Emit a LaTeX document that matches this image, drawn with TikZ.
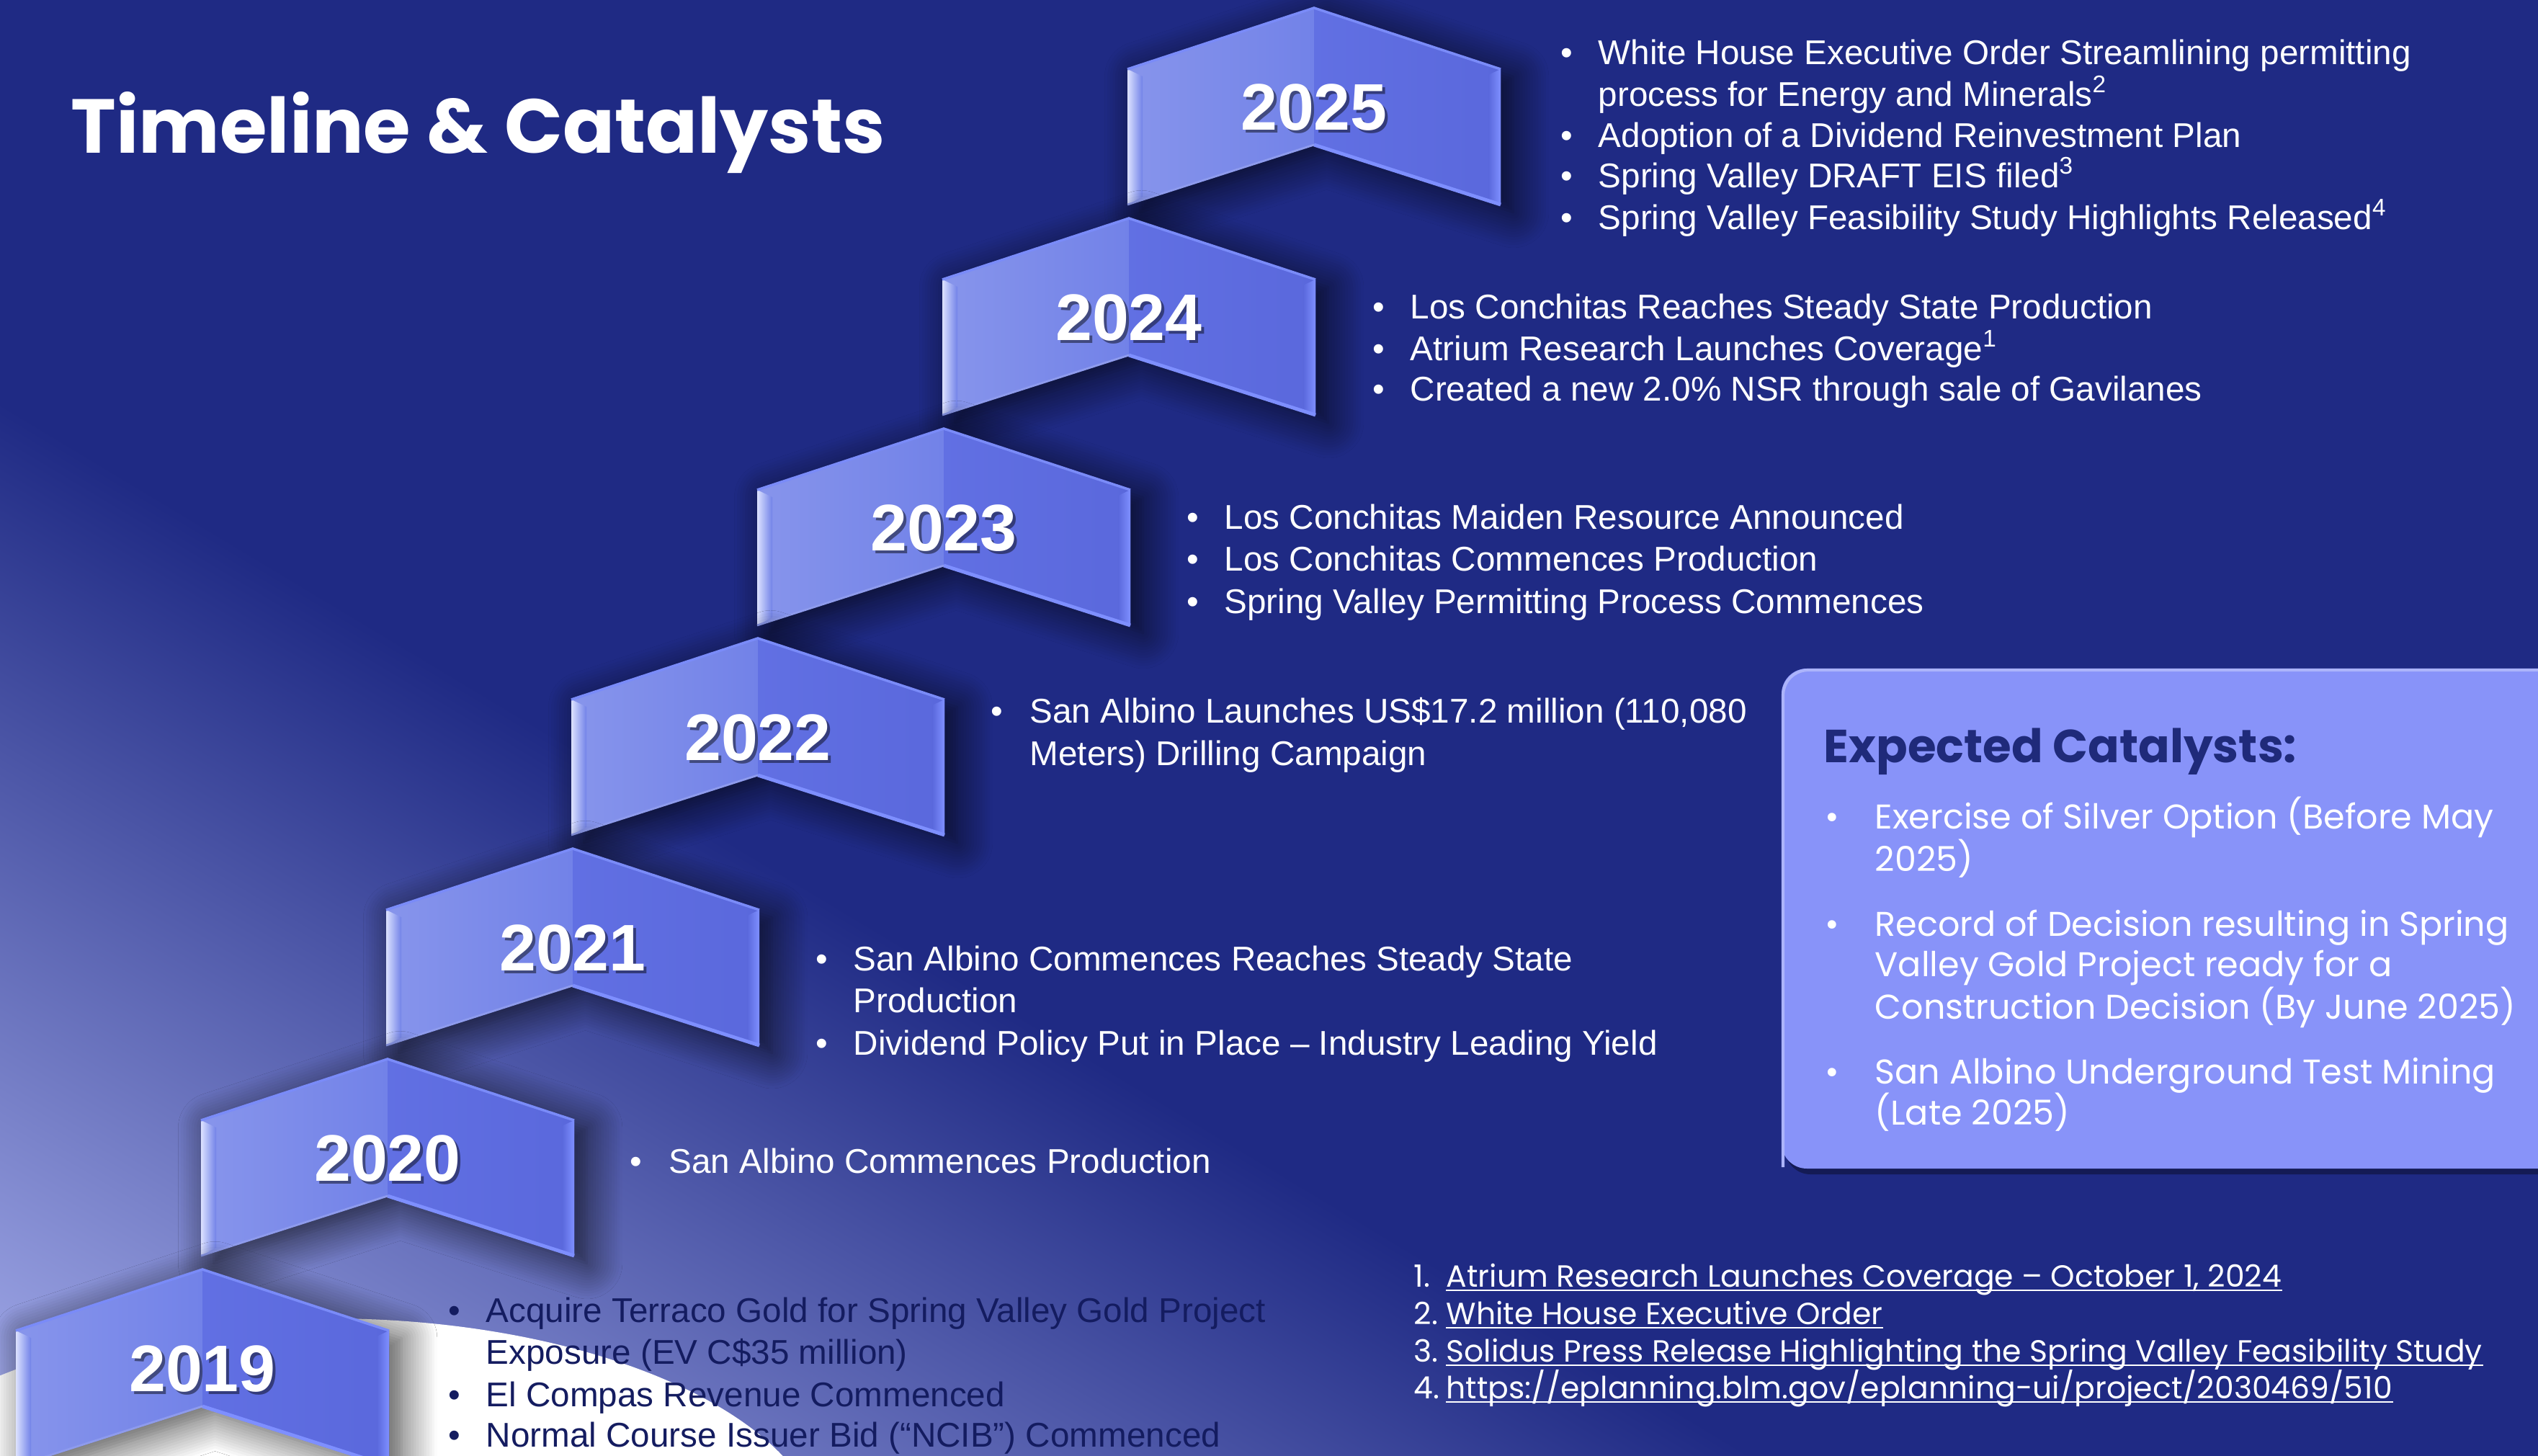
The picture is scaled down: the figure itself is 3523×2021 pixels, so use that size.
\documentclass[tikz,border=0pt]{standalone}
\usepackage{fontspec}
\setmainfont{Liberation Sans}
\newfontfamily\pop{Poppins}
\usetikzlibrary{shadows.blur,calc}
\definecolor{navy}{HTML}{1F2A84}
\definecolor{lightbg}{HTML}{A6AEEC}
\definecolor{midbg}{HTML}{6670C6}
\definecolor{chevL}{HTML}{7282E8}
\definecolor{chevR}{HTML}{5A68DC}
\definecolor{bevL}{HTML}{C4CEFF}
\definecolor{bevR}{HTML}{7E8FFF}
\definecolor{boxfill}{HTML}{8893F9}
\definecolor{darktext}{HTML}{141C60}
\definecolor{headtext}{HTML}{1F2A7A}
\tikzset{
  bul/.style={anchor=base west, inner sep=0pt, text=white, font=\fontsize{13.55}{16}\selectfont},
  buldark/.style={bul, text=darktext},
  catx/.style={anchor=base west, inner sep=0pt, text=white, font=\pop\fontsize{13.55}{16}\selectfont},
  fnote/.style={anchor=base west, inner sep=0pt, text=white, font=\pop\fontsize{12.1}{14}\selectfont},
  yearlbl/.style={inner sep=0pt, text=white, font=\bfseries\fontsize{26}{30}\selectfont},
  yearshadow/.style={inner sep=0pt, text=black, opacity=0.45, font=\bfseries\fontsize{26}{30}\selectfont},
  uline/.style={white, line width=0.7pt}
}
\newcommand{\chev}[4]{%
\begin{scope}[shift={(#2,#3)}]
 \fill[chevR, blur shadow={shadow xshift=5pt,shadow yshift=-3pt,shadow blur radius=14pt,shadow blur steps=14,shadow opacity=75}]
   (0,0) coordinate (#1-apex) -- (259,85) -- (259,273) -- (0,190) coordinate (#1-notch) -- (-259,273) -- (-259,85) -- cycle;
 \shade[left color=chevL!85!white, right color=chevL] (0,0) -- (0,190) -- (-259,273) -- (-259,85) -- cycle;
 \shade[left color=chevR!80!bevR, right color=chevR] (0,0) -- (259,85) -- (259,273) -- (0,190) -- cycle;
 \shade[left color=bevL!60!white, right color=chevL] (-259,85) -- (-238,95) -- (-238,262) -- (-259,273) -- cycle;
 \shade[left color=chevR, right color=bevR] (259,85) -- (242,93) -- (242,265) -- (259,273) -- cycle;
 \draw[bevR!70!chevL, line width=1pt, line join=miter] (-259,85) -- (0,0) -- (259,85);
 \draw[bevR, line width=1.4pt] (0,190) -- (259,273);
 \draw[chevL!80!white, line width=0.8pt] (-259,273) -- (0,190);
 \node[yearshadow] (#1s) at (4,142) {#4};
 \node[yearlbl] (#1) at (0,138) {#4};
\end{scope}}
\newcommand{\bitem}[6][bul]{%
 \node[#1] (#2b) at (#3,#5) {•};
 \node[#1] (#2) at (#4,#5) {#6};}
\begin{document}
\begin{tikzpicture}[x=0.01cm,y=-0.01cm]
\useasboundingbox (0,0) rectangle (3523,2021);
\begin{scope}
 \clip (0,0) rectangle (3523,2021);
 \fill[navy] (0,0) rectangle (3523,2021);
 \shade[transform canvas={rotate around={-31:(0,558)}}, top color=navy, middle color=midbg, bottom color=lightbg]
   (-2500,558) rectangle (6000,1818);
 \fill[white] (455,2150) ellipse [x radius=690, y radius=320];
\end{scope}

% title
\node[anchor=base west, inner sep=0pt, text=white, font=\pop\bfseries\fontsize{30.2}{36}\selectfont] (title) at (98,212) {Timeline \& Catalysts};

% chevrons
\chev{y2025}{1824}{11}{2025}
\chev{y2024}{1567}{303}{2024}
\chev{y2023}{1310}{595}{2023}
\chev{y2022}{1052}{886}{2022}
\chev{y2021}{795}{1178}{2021}
\chev{y2020}{538}{1470}{2020}
\chev{y2019}{281}{1762}{2019}

% 2025
\bitem{a1}{2166}{2218}{89}{White House Executive Order Streamlining permitting}
\node[bul] (a1c) at (2218,147) {process for Energy and Minerals\textsuperscript{2}};
\bitem{a2}{2166}{2218}{204}{Adoption of a Dividend Reinvestment Plan}
\bitem{a3}{2166}{2218}{260}{Spring Valley DRAFT EIS filed\textsuperscript{3}}
\bitem{a4}{2166}{2218}{318}{Spring Valley Feasibility Study Highlights Released\textsuperscript{4}}

% 2024
\bitem{b1}{1905}{1957}{442}{Los Conchitas Reaches Steady State Production}
\bitem{b2}{1905}{1957}{500}{Atrium Research Launches Coverage\textsuperscript{1}}
\bitem{b3}{1905}{1957}{556}{Created a new 2.0\% NSR through sale of Gavilanes}

% 2023
\bitem{c1}{1647}{1699}{734}{Los Conchitas Maiden Resource Announced}
\bitem{c2}{1647}{1699}{792}{Los Conchitas Commences Production}
\bitem{c3}{1647}{1699}{851}{Spring Valley Permitting Process Commences}

% 2022
\bitem{d1}{1375}{1429}{1003}{San Albino Launches US\$17.2 million (110,080}
\node[bul] (d1c) at (1429,1062) {Meters) Drilling Campaign};

% 2021
\bitem{e1}{1132}{1184}{1347}{San Albino Commences Reaches Steady State}
\node[bul] (e1c) at (1184,1405) {Production};
\bitem{e2}{1132}{1184}{1464}{Dividend Policy Put in Place – Industry Leading Yield}

% 2020
\bitem{f1}{874}{928}{1628}{San Albino Commences Production}

% 2019
\bitem[buldark]{g1}{622}{674}{1835}{Acquire Terraco Gold for Spring Valley Gold Project}
\node[buldark] (g1c) at (674,1893) {Exposure (EV C\$35 million)};
\bitem[buldark]{g2}{622}{674}{1952}{El Compas Revenue Commenced}
\bitem[buldark]{g3}{622}{674}{2008}{Normal Course Issuer Bid (“NCIB”) Commenced}

% catalysts box
\fill[black, opacity=0.35] (2478,936) [rounded corners=10] rectangle (3600,1630);
\fill[boxfill, rounded corners=10] (2473,928) rectangle (3600,1622) ;
\draw[boxfill!70!white, line width=1.2pt, rounded corners=10] (3600,930) -- (2475,930) -- (2475,1620);
\node[anchor=base west, inner sep=0pt, text=headtext, font=\pop\bfseries\fontsize{18.3}{22}\selectfont] (cath) at (2531,1058) {Expected Catalysts:};
\node[catx] (h1b) at (2533,1150) {•};
\node[catx] (h1) at (2602,1150) {Exercise of Silver Option (Before May};
\node[catx] (h1c) at (2602,1209) {2025)};
\node[catx] (h2b) at (2533,1299) {•};
\node[catx] (h2) at (2602,1299) {Record of Decision resulting in Spring};
\node[catx] (h2c) at (2602,1355) {Valley Gold Project ready for a};
\node[catx] (h2d) at (2602,1414) {Construction Decision (By June 2025)};
\node[catx] (h3b) at (2533,1504) {•};
\node[catx] (h3) at (2602,1504) {San Albino Underground Test Mining};
\node[catx] (h3c) at (2602,1561) {(Late 2025)};

% footnotes
\node[fnote] (n1) at (1962,1786) {1.};
\node[fnote] (fn1) at (2007,1786) {Atrium Research Launches Coverage – October 1, 2024};
\node[fnote] (n2) at (1962,1838) {2.};
\node[fnote] (fn2) at (2007,1838) {White House Executive Order};
\node[fnote] (n3) at (1962,1890) {3.};
\node[fnote] (fn3) at (2007,1890) {Solidus Press Release Highlighting the Spring Valley Feasibility Study};
\node[fnote] (n4) at (1962,1941) {4.};
\node[fnote] (fn4) at (2007,1941) {https://eplanning.blm.gov/eplanning-ui/project/2030469/510};
\foreach \n in {fn1,fn2,fn3,fn4}
  \draw[uline] ($(\n.base west)+(0,5)$) -- ($(\n.base east)+(0,5)$);
\end{tikzpicture}
\end{document}
